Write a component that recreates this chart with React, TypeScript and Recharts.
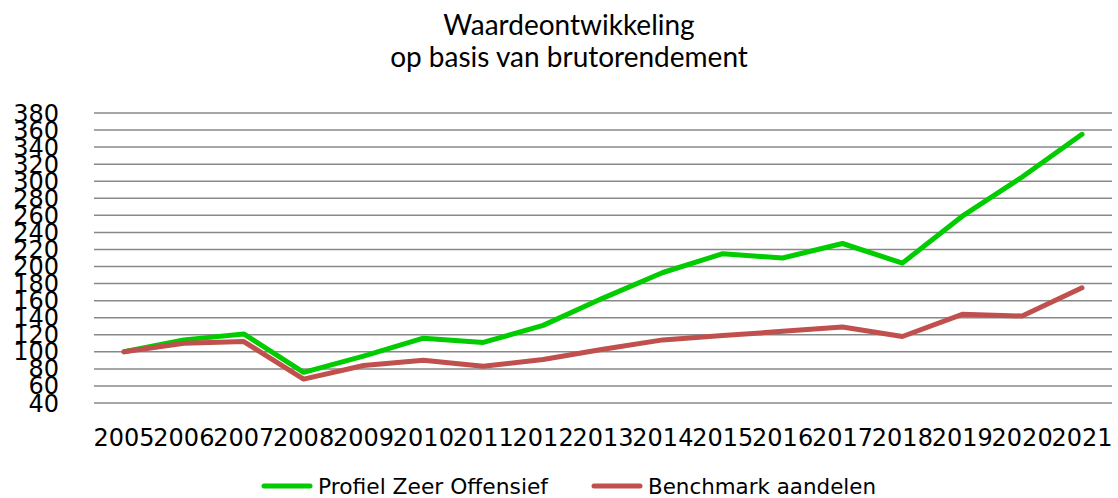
import React from "react";
import { LineChart, Line, XAxis, YAxis, CartesianGrid, Legend } from "recharts";

const years = ["2005","2006","2007","2008","2009","2010","2011","2012","2013","2014","2015","2016","2017","2018","2019","2020","2021"];
const profielZeerOffensief = [100, 114, 121, 76, 95, 116, 111, 131, 163, 193, 215, 210, 227, 204, 259, 305, 355];
const benchmarkAandelen = [100, 110, 112, 68, 84, 90, 83, 91, 103, 114, 119, 124, 129, 118, 144, 142, 175];
const yTicks = [40, 60, 80, 100, 120, 140, 160, 180, 200, 220, 240, 260, 280, 300, 320, 340, 360, 380];
const seriesNames = ["Profiel Zeer Offensief", "Benchmark aandelen"];
const titleLines = ["Waardeontwikkeling", "op basis van brutorendement"];

const data = years.map((y, i) => ({
  year: y,
  a: profielZeerOffensief[i],
  b: benchmarkAandelen[i],
}));

const GREEN = "#00CC00";
const RED = "#C0504D";

const LegendContent = () => (
  <svg width={1118} height={30} style={{ display: "block" }}>
    <line x1={264} y1={18} x2={310} y2={18} stroke={GREEN} strokeWidth={5} strokeLinecap="round" />
    <text x={318} y={26} fontSize={22} textLength={230} lengthAdjust="spacingAndGlyphs" fontFamily="DejaVu Sans" fill="#000">{seriesNames[0]}</text>
    <line x1={594} y1={18} x2={640} y2={18} stroke={RED} strokeWidth={5} strokeLinecap="round" />
    <text x={648} y={26} fontSize={22} textLength={228} lengthAdjust="spacingAndGlyphs" fontFamily="DejaVu Sans" fill="#000">{seriesNames[1]}</text>
  </svg>
);

export default function App() {
  return (
    <div style={{ position: "absolute", left: 0, top: 0, width: 1118, height: 498, background: "#fff", overflow: "hidden" }}>
      <div style={{ position: "absolute", left: 0, top: 8, width: 1138, textAlign: "center", fontFamily: "Lato, 'Open Sans', sans-serif", fontSize: 28, lineHeight: "32px", color: "#000" }}>
        <div>{titleLines[0]}</div>
        <div>{titleLines[1]}</div>
      </div>
      <LineChart
        width={1118}
        height={498}
        data={data}
        margin={{ top: 113, right: 6, bottom: 0, left: 0 }}
        style={{ position: "absolute", left: 0, top: 0 }}
      >
        <CartesianGrid vertical={false} stroke="#888888" strokeWidth={1.5} />
        <XAxis
          dataKey="year"
          interval={0}
          padding={{ left: 30, right: 30 }}
          tickLine={false}
          axisLine={false}
          tickSize={0}
          tickMargin={26}
          height={65}
          tick={{ fontSize: 24, fill: "#000", fontFamily: "DejaVu Sans" }}
        />
        <YAxis
          domain={[40, 380]}
          ticks={yTicks}
          interval={0}
          allowDataOverflow
          tickLine={false}
          axisLine={false}
          tickSize={0}
          tickMargin={35}
          width={94}
          tick={{ fontSize: 24, fill: "#000", fontFamily: "DejaVu Sans" }}
        />
        <Legend verticalAlign="bottom" height={30} content={<LegendContent />} wrapperStyle={{ left: 0, bottom: 0 }} />
        <Line type="linear" dataKey="a" name={seriesNames[0]} stroke={GREEN} strokeWidth={5} dot={false} isAnimationActive={false} strokeLinecap="round" strokeLinejoin="round" />
        <Line type="linear" dataKey="b" name={seriesNames[1]} stroke={RED} strokeWidth={5} dot={false} isAnimationActive={false} strokeLinecap="round" strokeLinejoin="round" />
      </LineChart>
    </div>
  );
}
